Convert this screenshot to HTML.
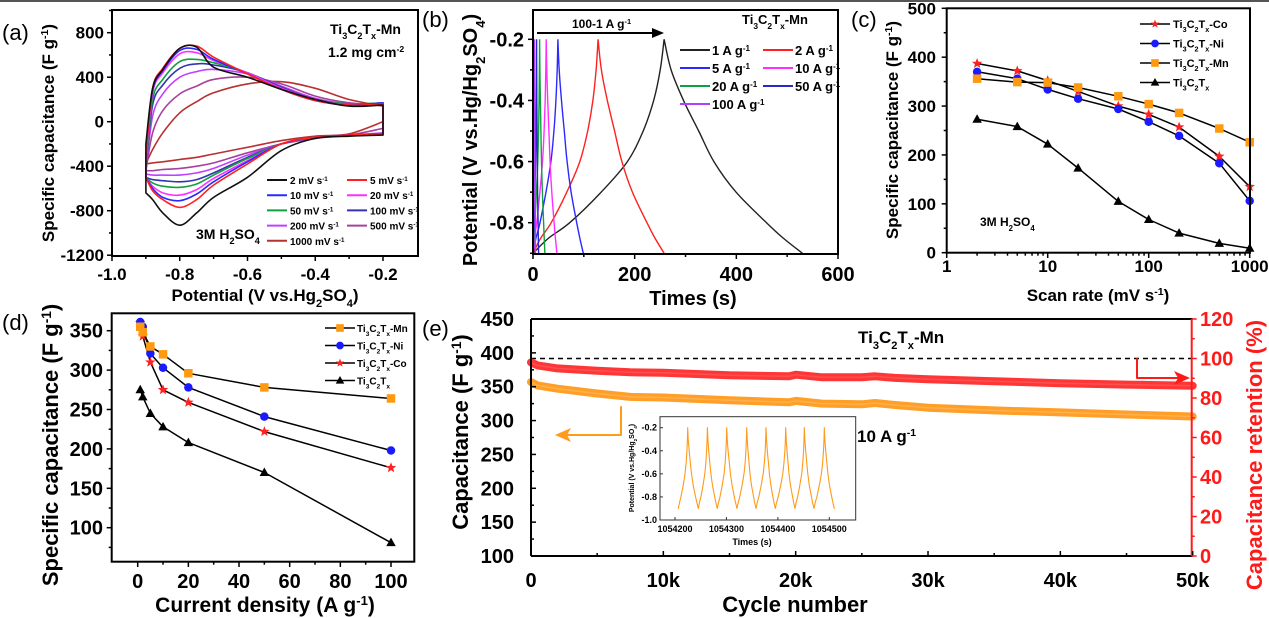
<!DOCTYPE html>
<html><head><meta charset="utf-8">
<style>
html,body{margin:0;padding:0;background:#fff;}
svg{display:block;font-family:"Liberation Sans",Arial,sans-serif;}
</style></head>
<body>
<svg id="fig" width="1269" height="618" viewBox="0 0 1269 618" xmlns="http://www.w3.org/2000/svg">
<rect x="0" y="0" width="1269" height="2" fill="#555"/>
</svg>
<script>
// ---------- Panel (a) CV data ----------
const cvX=[-0.9,-0.88,-0.85,-0.8,-0.75,-0.7,-0.6,-0.5,-0.4,-0.3,-0.2];
const cvRates=['2','5','10','20','50','100','200','500','1000'];
const cvColors=['#111','#ff2020','#2a2aff','#ff30ff','#10a040','#3434b0','#c040ff','#a8409c','#b83030'];
const cvUpper=[
 [-200,300,470,660,670,490,400,290,200,140,150],
 [-300,300,480,660,680,580,430,290,190,150,160],
 [-300,280,460,640,650,560,430,290,190,150,170],
 [-350,260,440,610,620,550,440,300,200,150,170],
 [-400,200,380,540,560,530,440,300,200,160,170],
 [-420,150,330,480,520,510,440,310,200,160,170],
 [-440,50,250,400,450,470,430,320,210,160,160],
 [-440,-100,100,250,320,380,400,340,230,170,150],
 [-380,-250,-100,80,180,260,340,360,300,200,140]];
const cvLower=[
 [-640,-700,-820,-930,-820,-680,-500,-260,-150,-130,-120],
 [-500,-620,-700,-770,-700,-570,-380,-200,-140,-120,-110],
 [-500,-600,-680,-710,-650,-540,-360,-200,-140,-120,-110],
 [-500,-580,-640,-660,-610,-510,-350,-200,-140,-120,-110],
 [-500,-550,-580,-590,-560,-480,-330,-200,-140,-120,-110],
 [-500,-520,-530,-540,-520,-460,-320,-200,-140,-120,-110],
 [-470,-480,-480,-480,-460,-420,-300,-200,-140,-120,-100],
 [-440,-440,-430,-420,-400,-370,-280,-200,-150,-120,-60],
 [-380,-370,-360,-340,-320,-290,-230,-170,-130,-110,0]];
const cvXTicks=[-1.0,-0.8,-0.6,-0.4,-0.2];
const cvYTicks=[-1200,-800,-400,0,400,800];

// ---------- Panel (b) GCD data ----------
const gcdLabels=['1','2','5','10','20','50','100'];
const gcdColors=['#222','#ff2020','#2a2aff','#ff30ff','#10a040','#2828c8','#b040ff'];
const gcdChargeEnd=[258,128,49,26,13,7,3];
const gcdDischargeEnd=[530,258,99,47,23.5,11,5];
const gcdV=[-0.9,-0.85,-0.8,-0.7,-0.6,-0.5,-0.4,-0.3,-0.2];
const gcdChargeFrac=[0,0.12,0.28,0.52,0.72,0.84,0.92,0.97,1];
const gcdDischargeFrac=[1,0.86,0.74,0.52,0.36,0.25,0.14,0.05,0];
const gcdXTicks=[0,200,400,600];
const gcdYTicks=[-0.8,-0.6,-0.4,-0.2];

// ---------- Panel (c) rate data ----------
const rateScan=[2,5,10,20,50,100,200,500,1000];
const rateCo=[387,372,352,330,300,283,257,197,135];
const rateNi=[370,356,334,315,294,268,239,183,106];
const rateMn=[356,349,348,338,320,304,286,254,226];
const rateTi=[273,258,222,173,105,68,40,19,9];
const rateYTicks=[0,100,200,300,400,500];
const rateXTicks=[1,10,100,1000];

// ---------- Panel (d) current-density data ----------
const cdX=[1,2,5,10,20,50,100];
const cdMn=[355,348,330,320,296,278,264];
const cdNi=[361,355,321,303,278,241,198];
const cdCo=[360,343,310,275,259,222,176];
const cdTi=[275,266,245,228,208,170,81];
const cdXTicks=[0,20,40,60,80,100];
const cdYTicks=[100,150,200,250,300,350];

// ---------- Panel (e) cycling data ----------
const cycN=[0,500,2000,5000,7500,10000,15000,19500,20000,22000,25000,26000,27500,30000,35000,40000,45000,50000];
const cycCap=[357,352,347,340,335,334,330,327,329,325,324,326,323,319,315,312,309,306];
const cycRet=[98,96.5,95,93.8,93,92.8,91.5,91,91.8,90.5,90.5,91,90.2,89.5,88.5,87.5,86.8,86.2];
const cycXTicks=[0,10000,20000,30000,40000,50000];
const cycXLabels=['0','10k','20k','30k','40k','50k'];
const cycYTicks=[100,150,200,250,300,350,400,450];
const cycRTicks=[0,20,40,60,80,100,120];
const insetPeakT=[1054224.6,1054262.9,1054300.5,1054339.4,1054377,1054415.2,1054451.4,1054490.3];
const insetTroughT=[1054245.4,1054282.3,1054320.6,1054357.5,1054395,1054433.3,1054470.2,1054509.8];
const insetStartT=1054206.5;
const insetXTicks=[1054200,1054300,1054400,1054500];
const insetYTicks=[-1.0,-0.8,-0.6,-0.4,-0.2];

const NS='http://www.w3.org/2000/svg';
const svg=document.getElementById('fig');
function mk(tag,attrs,parent){const e=document.createElementNS(NS,tag);for(const k in attrs)e.setAttribute(k,attrs[k]);(parent||svg).appendChild(e);return e;}
function lin(d0,d1,p0,p1){return v=>p0+(v-d0)*(p1-p0)/(d1-d0);}
const sub=s=>`<tspan baseline-shift="sub" font-size="65%">${s}</tspan>`;
const sup=s=>`<tspan baseline-shift="super" font-size="62%">${s}</tspan>`;
const TI='Ti'+sub('3')+'C'+sub('2')+'T'+sub('x');
function T(x,y,html,size,name,opt){opt=opt||{};
 const e=mk('text',{x:x,y:y,'font-size':size,'font-weight':opt.w||'bold','text-anchor':opt.a||'start',fill:opt.c||'#000'});
 if(opt.rot)e.setAttribute('transform',`rotate(-90 ${x} ${y})`);
 e.innerHTML=html;
 
 
 return e;}
function L(x1,y1,x2,y2,name,c,w,dash){const e=mk('line',{x1:x1,y1:y1,x2:x2,y2:y2,stroke:c||'#000','stroke-width':w||1.5});
 if(dash)e.setAttribute('stroke-dasharray',dash);
 
 
 return e;}
function P(pts,name,c,w,extra){const e=mk('polyline',{points:pts.map(p=>p[0].toFixed(1)+','+p[1].toFixed(1)).join(' '),fill:'none',stroke:c,'stroke-width':w,'stroke-linejoin':'round','stroke-linecap':'round'});
 if(extra)for(const k in extra)e.setAttribute(k,extra[k]);
 
 
 return e;}
function smooth(pts,start){let d=start?'M'+pts[0][0].toFixed(1)+','+pts[0][1].toFixed(1):'L'+pts[0][0].toFixed(1)+','+pts[0][1].toFixed(1);
 for(let i=0;i<pts.length-1;i++){const p0=pts[Math.max(0,i-1)],p1=pts[i],p2=pts[i+1],p3=pts[Math.min(pts.length-1,i+2)];
  const c1=[p1[0]+(p2[0]-p0[0])/6,p1[1]+(p2[1]-p0[1])/6],c2=[p2[0]-(p3[0]-p1[0])/6,p2[1]-(p3[1]-p1[1])/6];
  d+=` C${c1[0].toFixed(1)},${c1[1].toFixed(1)} ${c2[0].toFixed(1)},${c2[1].toFixed(1)} ${p2[0].toFixed(1)},${p2[1].toFixed(1)}`;}
 return d;}
function frame(x0,y0,x1,y1,name,w){const e=mk('rect',{x:x0,y:y0,width:x1-x0,height:y1-y0,fill:'none',stroke:'#000','stroke-width':w||2});
 
 
 return e;}
function marker(type,x,y,s,name){let e;
 if(type==='star'){const pts=[];for(let i=0;i<10;i++){const r=i%2?s*0.42:s;const a=-Math.PI/2+i*Math.PI/5;pts.push((x+r*Math.cos(a)).toFixed(1)+','+(y+r*Math.sin(a)).toFixed(1));}
  e=mk('polygon',{points:pts.join(' '),fill:'#ff2020'});}
 else if(type==='circle'){e=mk('circle',{cx:x,cy:y,r:s*0.85,fill:'#1a1aff'});}
 else if(type==='square'){e=mk('rect',{x:x-s*0.85,y:y-s*0.85,width:s*1.7,height:s*1.7,fill:'#ff9a10'});}
 else {e=mk('polygon',{points:`${x},${y-s} ${x-s*0.95},${y+s*0.7} ${x+s*0.95},${y+s*0.7}`,fill:'#000'});}
 
 
 return e;}

// ================= Panel (a) =================
(function(){
 const xa=lin(-1,-0.2,112,383), ya=lin(0,800,121.7,32.7);
 T(2,40,'(a)',22,'panel-a-label',{w:'normal'});
 cvRates.forEach((r,i)=>{const j=cvRates.length-1-i;
  const up=cvX.map((x,k)=>[xa(x),ya(cvUpper[j][k])]);
  const lo=[];for(let k=cvX.length-1;k>=0;k--)lo.push([xa(cvX[k]),ya(cvLower[j][k])]);
  const d=smooth(up,true)+' '+smooth(lo,false)+' Z';
  const e=mk('path',{d:d,fill:'none',stroke:cvColors[j],'stroke-width':1.6,'stroke-linejoin':'round'});
  
  });
 frame(112,10,418,256,'cv-plot-frame');
 cvXTicks.forEach(v=>{L(xa(v),256,xa(v),261,'cv-x-tick');T(xa(v),280,v.toFixed(1),17,'cv-x-tick-label',{a:'middle'});});
 for(let v=-0.9;v<-0.1;v+=0.2){L(xa(v),256,xa(v),259,'cv-x-minor-tick');}
 cvYTicks.forEach(v=>{L(112,ya(v),107,ya(v),'cv-y-tick');T(104,ya(v)+6,String(v),17,'cv-y-tick-label',{a:'end'});});
 for(let v=-1000;v<=1000;v+=400){L(112,ya(v),109,ya(v),'cv-y-minor-tick');}
 T(265,301,'Potential (V vs.Hg'+sub('2')+'SO'+sub('4')+')',17,'cv-x-axis-title',{a:'middle'});
 T(54,133,'Specific capacitance (F g'+sup('-1')+')',17,'cv-y-axis-title',{a:'middle',rot:1});
 T(330,34,TI+'-Mn',14,'cv-sample-label');
 T(328,57,'1.2 mg cm'+sup('-2'),14,'cv-loading-label');
 T(196,239,'3M H'+sub('2')+'SO'+sub('4'),14,'cv-electrolyte-label');
 cvRates.forEach((r,i)=>{const col=i%2, row=Math.floor(i/2);
  const lx=col?347:267, ly=180+row*15.2;
  L(lx,ly,lx+20,ly,'cv-legend-line-'+r,cvColors[i],2);
  T(lx+23,ly+4,r+' mV s'+sup('-1'),10,'cv-legend-entry-'+r);});
})();

// ================= Panel (b) =================
(function(){
 const xb=lin(0,600,533,838), yb=lin(-0.2,-0.8,39.3,222.7);
 T(422,27,'(b)',22,'panel-b-label',{w:'normal'});
 gcdLabels.forEach((lab,i)=>{const j=i;const ch=[],dc=[];
  gcdV.forEach((v,k)=>ch.push([xb(gcdChargeFrac[k]*gcdChargeEnd[j]),yb(v)]));
  for(let k=gcdV.length-1;k>=0;k--)dc.push([xb(gcdChargeEnd[j]+gcdDischargeFrac[k]*(gcdDischargeEnd[j]-gcdChargeEnd[j])),yb(gcdV[k])]);
  const e=mk('path',{d:smooth(ch,true)+' '+smooth(dc,false),fill:'none',stroke:gcdColors[j],'stroke-width':1.4});
  
  });
 frame(533,10,838,254,'gcd-plot-frame');
 gcdXTicks.forEach(v=>{L(xb(v),254,xb(v),259,'gcd-x-tick');T(xb(v),281,String(v),20,'gcd-x-tick-label',{a:'middle'});});
 [100,300,500].forEach(v=>L(xb(v),254,xb(v),257,'gcd-x-minor-tick'));
 gcdYTicks.forEach(v=>{L(533,yb(v),528,yb(v),'gcd-y-tick');T(524,yb(v)+7,v.toFixed(1),20,'gcd-y-tick-label',{a:'end'});});
 [-0.9,-0.7,-0.5,-0.3].forEach(v=>L(533,yb(v),530,yb(v),'gcd-y-minor-tick'));
 T(693,305,'Times (s)',20,'gcd-x-axis-title',{a:'middle'});
 T(477,140,'Potential (V vs.Hg/Hg'+sub('2')+'SO'+sub('4')+')',20,'gcd-y-axis-title',{a:'middle',rot:1});
 T(572,28,'100-1 A g'+sup('-1'),12,'gcd-rate-label');
 L(537,33,655,33,'gcd-arrow-line','#000',2);
 const ah=mk('polygon',{points:'664,33 652,28 652,38',fill:'#000'});
 
 
 T(742,24,TI+'-Mn',13,'gcd-sample-label');
 gcdLabels.forEach((lab,i)=>{const col=i%2,row=Math.floor(i/2);
  const lx=col?763:680, ly=50+row*18;
  L(lx,ly,lx+30,ly,'gcd-legend-line-'+lab,gcdColors[i],2);
  T(lx+32,ly+5,lab+' A g'+sup('-1'),13,'gcd-legend-entry-'+lab);});
})();

// ================= Panel (c) =================
(function(){
 const xc=v=>946.7+101*Math.log10(v), yc=lin(0,500,252.7,8.3);
 T(851,27,'(c)',22,'panel-c-label',{w:'normal'});
 const series=[['co',rateCo,'star'],['ni',rateNi,'circle'],['mn',rateMn,'square'],['ti3c2tx',rateTi,'tri']];
 series.forEach(s=>{P(rateScan.map((x,k)=>[xc(x),yc(s[1][k])]),'rate-line-'+s[0],'#000',1.5);
  rateScan.forEach((x,k)=>marker(s[2],xc(x),yc(s[1][k]),s[2]==='star'?5.5:5,'rate-point-'+s[0]));});
 frame(946.7,8.3,1250,252.7,'rate-plot-frame');
 rateXTicks.forEach(v=>{L(xc(v),252.7,xc(v),258,'rate-x-tick');T(xc(v),272,String(v),17,'rate-x-tick-label',{a:'middle'});});
 [1,10,100].forEach(d=>{for(let m=2;m<10;m++)L(xc(d*m),252.7,xc(d*m),255.7,'rate-x-minor-tick');});
 rateYTicks.forEach(v=>{L(946.7,yc(v),941.7,yc(v),'rate-y-tick');T(936,yc(v)+6,String(v),17,'rate-y-tick-label',{a:'end'});});
 [50,150,250,350,450].forEach(v=>L(946.7,yc(v),943.7,yc(v),'rate-y-minor-tick'));
 T(1098,301,'Scan rate (mV s'+sup('-1')+')',17,'rate-x-axis-title',{a:'middle'});
 T(898,130,'Specific capacitance (F g'+sup('-1')+')',17,'rate-y-axis-title',{a:'middle',rot:1});
 T(980,226,'3M H'+sub('2')+'SO'+sub('4'),12,'rate-electrolyte-label');
 const leg=[['co','star',TI+'-Co'],['ni','circle',TI+'-Ni'],['mn','square',TI+'-Mn'],['ti3c2tx','tri',TI]];
 leg.forEach((l,i)=>{const ly=24+i*19.5;L(1140,ly,1170,ly,'rate-legend-line-'+l[0],'#000',1.5);
  marker(l[1],1155,ly,4.5,'rate-legend-marker-'+l[0]);T(1173,ly+4,l[2],11,'rate-legend-entry-'+l[0]);});
})();

// ================= Panel (d) =================
(function(){
 const xd=lin(0,100,137.7,391), yd=lin(100,350,527.7,330.7);
 T(2,330,'(d)',22,'panel-d-label',{w:'normal'});
 const series=[['ti3c2tx',cdTi,'tri'],['co',cdCo,'star'],['ni',cdNi,'circle'],['mn',cdMn,'square']];
 series.forEach(s=>{P(cdX.map((x,k)=>[xd(x),yd(s[1][k])]),'cd-line-'+s[0],'#000',1.5);
  cdX.forEach((x,k)=>marker(s[2],xd(x),yd(s[1][k]),s[2]==='star'?5.5:5,'cd-point-'+s[0]));});
 frame(111.7,313.3,414.3,561.7,'cd-plot-frame');
 cdXTicks.forEach(v=>{L(xd(v),561.7,xd(v),567,'cd-x-tick');T(xd(v),588,String(v),20,'cd-x-tick-label',{a:'middle'});});
 [10,30,50,70,90].forEach(v=>L(xd(v),561.7,xd(v),564.7,'cd-x-minor-tick'));
 cdYTicks.forEach(v=>{L(111.7,yd(v),106.7,yd(v),'cd-y-tick');T(103,yd(v)+7,String(v),20,'cd-y-tick-label',{a:'end'});});
 [75,125,175,225,275,325].forEach(v=>L(111.7,yd(v),108.7,yd(v),'cd-y-minor-tick'));
 T(265,612,'Current density (A g'+sup('-1')+')',21,'cd-x-axis-title',{a:'middle'});
 T(58,445,'Specific capacitance (F g'+sup('-1')+')',22,'cd-y-axis-title',{a:'middle',rot:1});
 const leg=[['mn','square',TI+'-Mn'],['ni','circle',TI+'-Ni'],['co','star',TI+'-Co'],['ti3c2tx','tri',TI]];
 leg.forEach((l,i)=>{const ly=328+i*17.5;L(325,ly,355,ly,'cd-legend-line-'+l[0],'#000',1.5);
  marker(l[1],340,ly,4.5,'cd-legend-marker-'+l[0]);T(357,ly+4,l[2],10,'cd-legend-entry-'+l[0]);});
})();

// ================= Panel (e) =================
(function(){
 const xe=lin(0,50000,531,1192.7), ye=lin(100,450,556,319), yr=lin(0,120,556,319);
 T(422,336,'(e)',22,'panel-e-label',{w:'normal'});
 L(xe(0),yr(100),xe(50000),yr(100),'retention-100-reference','#000',1.5,'5,4');
 P(cycN.map((n,k)=>[xe(n),yr(cycRet[k])]),'retention-band','#ff2020',8,{opacity:'0.9'});
 P(cycN.map((n,k)=>[xe(n),yr(cycRet[k])]),'retention-band-highlight','#ff5050',1.5);
 P(cycN.map((n,k)=>[xe(n),ye(cycCap[k])]),'capacitance-band','#ff9a1a',8,{opacity:'0.95'});
 P(cycN.map((n,k)=>[xe(n),ye(cycCap[k])]),'capacitance-band-highlight','#ffb050',1.5);
 L(531,319,1192.7,319,'cyc-top-axis','#000',2);
 L(531,556,1192.7,556,'cyc-x-axis','#000',2);
 L(531,319,531,556,'cyc-left-axis','#000',2);
 L(1191.7,319,1191.7,556,'cyc-right-axis','#ff1a1a',2);
 cycXTicks.forEach((v,i)=>{L(xe(v),556,xe(v),551,'cyc-x-tick');T(xe(v),587,cycXLabels[i],20,'cyc-x-tick-label',{a:'middle'});});
 [5000,15000,25000,35000,45000].forEach(v=>L(xe(v),556,xe(v),553,'cyc-x-minor-tick'));
 cycYTicks.forEach(v=>{L(531,ye(v),536,ye(v),'cyc-y-tick');T(514,ye(v)+7,String(v),20,'cyc-y-tick-label',{a:'end'});});
 for(let v=125;v<450;v+=25){if(v%50)L(531,ye(v),534,ye(v),'cyc-y-minor-tick');}
 cycRTicks.forEach(v=>{L(1191.7,yr(v),1196.7,yr(v),'retention-tick','#ff1a1a');T(1200,yr(v)+7,String(v),20,'retention-tick-label',{c:'#ff1a1a'});});
 [10,30,50,70,90,110].forEach(v=>L(1191.7,yr(v),1194.7,yr(v),'retention-minor-tick','#ff1a1a'));
 T(795,612,'Cycle number',22,'cyc-x-axis-title',{a:'middle'});
 T(468,432,'Capacitance (F g'+sup('-1')+')',22,'cyc-y-axis-title',{a:'middle',rot:1});
 T(1262,455,'Capacitance retention (%)',22,'retention-axis-title',{a:'middle',rot:1,c:'#ff1a1a'});
 T(858,343,TI+'-Mn',17,'cyc-sample-label');
 T(857,442,'10 A g'+sup('-1'),17,'cyc-rate-label');
 P([[621,407],[621,435],[565,435]],'capacitance-arrow-line','#ff9a1a',2);
 const oa=mk('polygon',{points:'555,435 571,428 567,435 571,442',fill:'#ff9a1a'});
 
 
 P([[1137,359],[1137,378],[1180,378]],'retention-arrow-line','#ff1a1a',2);
 const ra=mk('polygon',{points:'1190,378 1174,371 1178,378 1174,385',fill:'#ff1a1a'});
 
 
 const xi=lin(1054200,1054500,675,829.3), yi=lin(-0.2,-1.0,427.7,520);
 const bg=mk('rect',{x:660,y:416.7,width:195.7,height:103.3,fill:'#fff',stroke:'#333','stroke-width':1});
 
 
 const ipts=[[xi(insetStartT),yi(-0.9)]];
 let prev=insetStartT;
 insetPeakT.forEach((pt,k)=>{
  for(let m=1;m<gcdV.length;m++)ipts.push([xi(prev+gcdChargeFrac[m]*(pt-prev)),yi(gcdV[m])]);
  const tt=insetTroughT[k];
  for(let m=gcdV.length-2;m>=0;m--)ipts.push([xi(pt+gcdDischargeFrac[m]*(tt-pt)),yi(gcdV[m])]);
  prev=tt;});
 P(ipts,'inset-gcd-curve','#ff9a1a',1.1);
 insetXTicks.forEach(v=>{L(xi(v),520,xi(v),517,'inset-x-tick','#333',1);T(xi(v),532,String(v),9,'inset-x-tick-label',{a:'middle'});});
 insetYTicks.forEach(v=>{L(660,yi(v),663,yi(v),'inset-y-tick','#333',1);T(657,yi(v)+3,v.toFixed(1),9,'inset-y-tick-label',{a:'end'});});
 T(752,545,'Times (s)',9,'inset-x-axis-title',{a:'middle'});
 T(634,468,'Potential (V vs.Hg/Hg'+sub('2')+'SO'+sub('4')+')',7,'inset-y-axis-title',{a:'middle',rot:1});
})();
</script>
</body></html>
